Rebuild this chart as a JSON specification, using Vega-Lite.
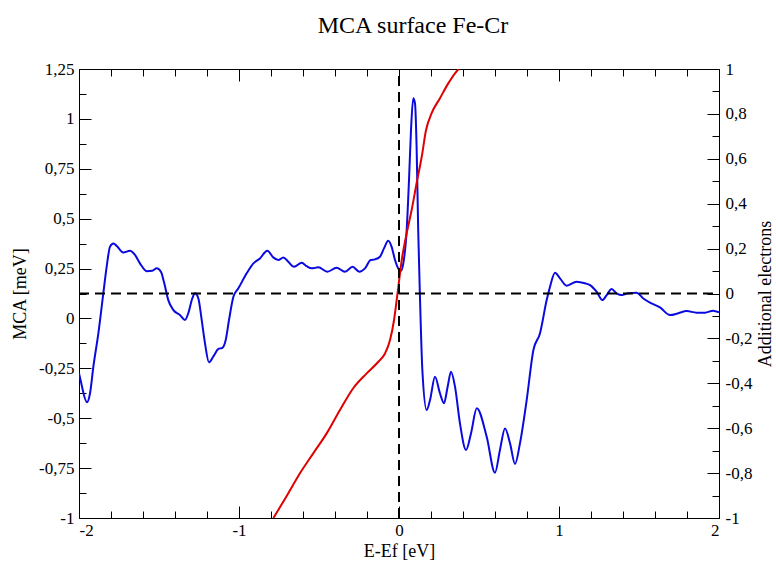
{
  "$schema": "https://vega.github.io/schema/vega-lite/v6.json",
  "width": 640,
  "height": 449,
  "autosize": {"type": "none"},
  "padding": {"left": 79, "top": 69, "right": 57, "bottom": 45},
  "background": "white",
  "title": {"text": "MCA surface Fe-Cr", "font": "Liberation Serif", "fontSize": 24, "fontWeight": "normal", "color": "black", "anchor": "middle", "dx": 14, "offset": 22},
  "config": {
    "view": {"stroke": null},
    "axis": {"labelFont": "Liberation Serif", "titleFont": "Liberation Serif", "labelFontSize": 17, "titleFontSize": 18, "titleFontWeight": "normal", "labelColor": "black", "titleColor": "black", "domainColor": "black", "tickColor": "black", "grid": false, "domainWidth": 1, "tickWidth": 1}
  },
  "datasets": {
    "mca": [
      {"E": -2.0, "MCA": -0.275}, {"E": -1.99, "MCA": -0.31}, {"E": -1.95, "MCA": -0.42}, {"E": -1.931, "MCA": -0.375},
      {"E": -1.91, "MCA": -0.24}, {"E": -1.879, "MCA": -0.075}, {"E": -1.848, "MCA": 0.126}, {"E": -1.827, "MCA": 0.26},
      {"E": -1.806, "MCA": 0.36}, {"E": -1.785, "MCA": 0.376}, {"E": -1.764, "MCA": 0.363}, {"E": -1.723, "MCA": 0.331},
      {"E": -1.681, "MCA": 0.339}, {"E": -1.65, "MCA": 0.318}, {"E": -1.619, "MCA": 0.276}, {"E": -1.577, "MCA": 0.237},
      {"E": -1.542, "MCA": 0.239}, {"E": -1.514, "MCA": 0.251}, {"E": -1.488, "MCA": 0.234}, {"E": -1.467, "MCA": 0.176},
      {"E": -1.442, "MCA": 0.092}, {"E": -1.41, "MCA": 0.042}, {"E": -1.369, "MCA": 0.017}, {"E": -1.338, "MCA": -0.008},
      {"E": -1.317, "MCA": 0.026}, {"E": -1.292, "MCA": 0.1}, {"E": -1.275, "MCA": 0.126}, {"E": -1.254, "MCA": 0.1},
      {"E": -1.233, "MCA": -0.008}, {"E": -1.2125, "MCA": -0.125}, {"E": -1.1875, "MCA": -0.22}, {"E": -1.16, "MCA": -0.19},
      {"E": -1.129, "MCA": -0.153}, {"E": -1.104, "MCA": -0.147}, {"E": -1.083, "MCA": -0.108}, {"E": -1.0625, "MCA": -0.008},
      {"E": -1.035, "MCA": 0.109}, {"E": -1.004, "MCA": 0.151}, {"E": -0.952, "MCA": 0.226}, {"E": -0.91, "MCA": 0.276},
      {"E": -0.869, "MCA": 0.301}, {"E": -0.823, "MCA": 0.339}, {"E": -0.786, "MCA": 0.306}, {"E": -0.754, "MCA": 0.293},
      {"E": -0.723, "MCA": 0.306}, {"E": -0.692, "MCA": 0.284}, {"E": -0.656, "MCA": 0.259}, {"E": -0.608, "MCA": 0.279},
      {"E": -0.577, "MCA": 0.262}, {"E": -0.546, "MCA": 0.251}, {"E": -0.504, "MCA": 0.256}, {"E": -0.448, "MCA": 0.234},
      {"E": -0.39, "MCA": 0.254}, {"E": -0.3375, "MCA": 0.234}, {"E": -0.29, "MCA": 0.259}, {"E": -0.248, "MCA": 0.234},
      {"E": -0.2125, "MCA": 0.251}, {"E": -0.177, "MCA": 0.293}, {"E": -0.15, "MCA": 0.296}, {"E": -0.119, "MCA": 0.309},
      {"E": -0.094, "MCA": 0.351}, {"E": -0.067, "MCA": 0.389}, {"E": -0.046, "MCA": 0.359}, {"E": -0.025, "MCA": 0.293},
      {"E": 0.0, "MCA": 0.245}, {"E": 0.0125, "MCA": 0.239}, {"E": 0.027, "MCA": 0.276}, {"E": 0.048, "MCA": 0.443},
      {"E": 0.0625, "MCA": 0.693}, {"E": 0.075, "MCA": 0.944}, {"E": 0.089, "MCA": 1.103}, {"E": 0.1, "MCA": 1.078},
      {"E": 0.11, "MCA": 0.86}, {"E": 0.12, "MCA": 0.443}, {"E": 0.131, "MCA": 0.109}, {"E": 0.146, "MCA": -0.259},
      {"E": 0.173, "MCA": -0.459}, {"E": 0.194, "MCA": -0.409}, {"E": 0.225, "MCA": -0.292}, {"E": 0.256, "MCA": -0.375},
      {"E": 0.281, "MCA": -0.425}, {"E": 0.304, "MCA": -0.342}, {"E": 0.325, "MCA": -0.267}, {"E": 0.35, "MCA": -0.342},
      {"E": 0.381, "MCA": -0.526}, {"E": 0.419, "MCA": -0.659}, {"E": 0.45, "MCA": -0.576}, {"E": 0.486, "MCA": -0.45},
      {"E": 0.548, "MCA": -0.593}, {"E": 0.6, "MCA": -0.773}, {"E": 0.631, "MCA": -0.659}, {"E": 0.6625, "MCA": -0.551},
      {"E": 0.694, "MCA": -0.626}, {"E": 0.725, "MCA": -0.729}, {"E": 0.756, "MCA": -0.626}, {"E": 0.798, "MCA": -0.409},
      {"E": 0.84, "MCA": -0.158}, {"E": 0.881, "MCA": -0.075}, {"E": 0.923, "MCA": 0.092}, {"E": 0.944, "MCA": 0.159},
      {"E": 0.975, "MCA": 0.229}, {"E": 1.006, "MCA": 0.201}, {"E": 1.048, "MCA": 0.164}, {"E": 1.11, "MCA": 0.184},
      {"E": 1.1625, "MCA": 0.176}, {"E": 1.194, "MCA": 0.167}, {"E": 1.235, "MCA": 0.134}, {"E": 1.271, "MCA": 0.092},
      {"E": 1.298, "MCA": 0.117}, {"E": 1.329, "MCA": 0.147}, {"E": 1.36, "MCA": 0.126}, {"E": 1.392, "MCA": 0.117},
      {"E": 1.433, "MCA": 0.126}, {"E": 1.485, "MCA": 0.129}, {"E": 1.527, "MCA": 0.1}, {"E": 1.579, "MCA": 0.075},
      {"E": 1.631, "MCA": 0.055}, {"E": 1.694, "MCA": 0.017}, {"E": 1.746, "MCA": 0.026}, {"E": 1.798, "MCA": 0.037},
      {"E": 1.86, "MCA": 0.029}, {"E": 1.9125, "MCA": 0.029}, {"E": 1.964, "MCA": 0.039}, {"E": 2.0, "MCA": 0.031}
    ],
    "electrons": [
      {"E": -0.785, "N": -1.0}, {"E": -0.7, "N": -0.9}, {"E": -0.619, "N": -0.801}, {"E": -0.536, "N": -0.712},
      {"E": -0.452, "N": -0.623}, {"E": -0.369, "N": -0.519}, {"E": -0.286, "N": -0.422}, {"E": -0.202, "N": -0.356},
      {"E": -0.129, "N": -0.304}, {"E": -0.0875, "N": -0.267}, {"E": -0.056, "N": -0.207}, {"E": -0.031, "N": -0.118},
      {"E": -0.0145, "N": -0.029}, {"E": -0.004, "N": 0.03}, {"E": 0.017, "N": 0.149}, {"E": 0.048, "N": 0.268},
      {"E": 0.079, "N": 0.372}, {"E": 0.11, "N": 0.491}, {"E": 0.142, "N": 0.609}, {"E": 0.169, "N": 0.728},
      {"E": 0.204, "N": 0.803}, {"E": 0.256, "N": 0.87}, {"E": 0.308, "N": 0.936}, {"E": 0.35, "N": 0.981},
      {"E": 0.373, "N": 1.0}
    ],
    "hline": [{"level": 0.125, "from": -2, "to": 2}],
    "vline": [{"E": 0, "from": -1, "to": 1}]
  },
  "resolve": {"scale": {"x": "independent", "y": "independent"}, "axis": {"x": "independent", "y": "independent"}},
  "layer": [
    {
      "data": {"name": "mca"},
      "mark": {"type": "line", "color": "#0a0ae0", "strokeWidth": 2, "interpolate": "monotone", "clip": true},
      "encoding": {
        "x": {"field": "E", "type": "quantitative", "scale": {"domain": [-2, 2], "nice": false, "zero": false},
          "axis": {"orient": "bottom", "values": [-2, -1, 0, 1, 2], "tickSize": -12, "labelPadding": 16, "title": "E-Ef [eV]", "titlePadding": 4, "labelExpr": "replace(toString(datum.value), '.', ',')"}},
        "y": {"field": "MCA", "type": "quantitative", "scale": {"domain": [-1, 1.25], "nice": false, "zero": false},
          "axis": {"orient": "left", "values": [-1, -0.75, -0.5, -0.25, 0, 0.25, 0.5, 0.75, 1, 1.25], "tickSize": -12, "labelPadding": 17, "title": "MCA [meV]", "titlePadding": 9, "labelExpr": "replace(toString(datum.value), '.', ',')"}}
      }
    },
    {
      "data": {"name": "electrons"},
      "mark": {"type": "line", "color": "#e00000", "strokeWidth": 2, "interpolate": "monotone", "clip": true},
      "encoding": {
        "x": {"field": "E", "type": "quantitative", "scale": {"domain": [-2, 2], "nice": false, "zero": false},
          "axis": {"orient": "top", "values": [-2, -1, 0, 1, 2], "tickSize": -12, "labels": false, "title": null}},
        "y": {"field": "N", "type": "quantitative", "scale": {"domain": [-1, 1], "nice": false, "zero": false},
          "axis": {"orient": "right", "values": [-1, -0.8, -0.6, -0.4, -0.2, 0, 0.2, 0.4, 0.6, 0.8, 1], "tickSize": -12, "labelPadding": 18, "title": "Additional electrons", "titleAngle": -90, "titlePadding": 5, "titleBaseline": "top", "labelExpr": "replace(toString(datum.value), '.', ',')"}}
      }
    },
    {
      "data": {"name": "hline"},
      "mark": {"type": "rule", "color": "black", "strokeWidth": 2, "strokeDash": [10, 6]},
      "encoding": {
        "x": {"field": "from", "type": "quantitative", "scale": {"domain": [-2, 2], "nice": false, "zero": false},
          "axis": {"orient": "bottom", "values": [-1.8, -1.6, -1.4, -1.2, -0.8, -0.6, -0.4, -0.2, 0.2, 0.4, 0.6, 0.8, 1.2, 1.4, 1.6, 1.8], "tickSize": -7, "labels": false, "domain": false, "title": null}},
        "x2": {"field": "to"},
        "y": {"field": "level", "type": "quantitative", "scale": {"domain": [-1, 1.25], "nice": false, "zero": false},
          "axis": {"orient": "left", "values": [-0.875, -0.625, -0.375, -0.125, 0.125, 0.375, 0.625, 0.875, 1.125], "tickSize": -7, "labels": false, "domain": false, "title": null}}
      }
    },
    {
      "data": {"name": "vline"},
      "mark": {"type": "rule", "color": "black", "strokeWidth": 2, "strokeDash": [10, 6]},
      "encoding": {
        "x": {"field": "E", "type": "quantitative", "scale": {"domain": [-2, 2], "nice": false, "zero": false},
          "axis": {"orient": "top", "values": [-1.8, -1.6, -1.4, -1.2, -0.8, -0.6, -0.4, -0.2, 0.2, 0.4, 0.6, 0.8, 1.2, 1.4, 1.6, 1.8], "tickSize": -7, "labels": false, "domain": false, "title": null}},
        "y": {"field": "from", "type": "quantitative", "scale": {"domain": [-1, 1], "nice": false, "zero": false},
          "axis": {"orient": "right", "values": [-0.9, -0.7, -0.5, -0.3, -0.1, 0.1, 0.3, 0.5, 0.7, 0.9], "tickSize": -7, "labels": false, "domain": false, "title": null}},
        "y2": {"field": "to"}
      }
    }
  ]
}
